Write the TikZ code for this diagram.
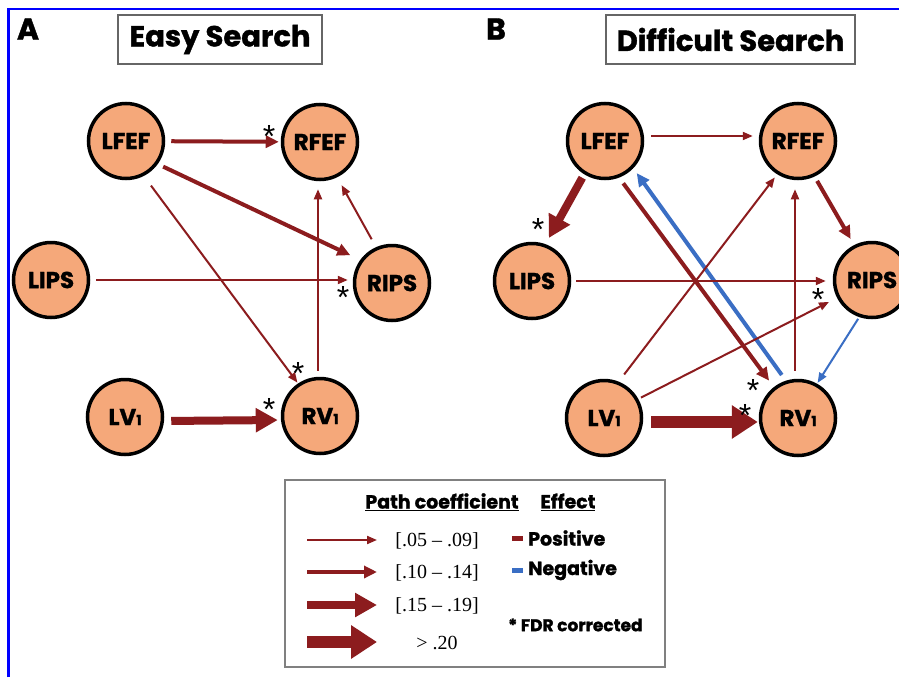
\documentclass[tikz,border=0pt]{standalone}
\usepackage{fontspec}
\newfontfamily\pop{Poppins}[BoldFeatures={FakeBold=1.3}]
\newfontfamily\tnr{Liberation Serif}
\newfontfamily\lsans{Liberation Sans}
\usetikzlibrary{arrows.meta}
\definecolor{ared}{RGB}{140,28,30}
\definecolor{ablue}{RGB}{58,110,196}
\definecolor{nfill}{RGB}{245,168,122}
\definecolor{frameblue}{RGB}{0,0,255}
\begin{document}
\begin{tikzpicture}[x=1pt,y=-1pt,
  region/.style={circle, draw=black, line width=3.5pt, fill=nfill, minimum size=75pt, inner sep=0pt,
    font=\pop\bfseries\fontsize{23}{23}\selectfont},
  con/.style={draw=ared, shorten <=7pt, shorten >=3pt},
  w1/.style={con, line width=2pt, -{Triangle[length=10pt,width=8pt]}},
  w2/.style={con, line width=4pt, -{Triangle[length=13pt,width=12pt]}},
  w3/.style={con, line width=8pt, -{Triangle[length=22pt,width=23pt]}},
  w4/.style={con, line width=12pt, -{Triangle[length=26pt,width=32pt]}},
  neg/.style={draw=ablue},
  fdr/.style={anchor=north, inner sep=0pt, font=\lsans\fontsize{32}{32}\selectfont},
  titlebox/.style={draw=black!60, line width=1.4pt, minimum height=49pt, inner sep=0pt,
    font=\pop\bfseries\fontsize{29}{29}\selectfont},
  panel/.style={inner sep=0pt, font=\pop\bfseries\fontsize{30}{30}\selectfont},
  legbox/.style={draw=black!50, line width=1.3pt, minimum width=380pt, minimum height=187pt, inner sep=0pt},
  legt/.style={inner sep=0pt, font=\pop\bfseries\fontsize{19}{19}\selectfont},
  val/.style={inner sep=0pt, font=\tnr\fontsize{20}{20}\selectfont},
]
\useasboundingbox (0,0) rectangle (899,677);
\fill[white] (0,0) rectangle (899,677);
\draw[frameblue, line width=2.8pt] (8.5,677) -- (8.5,9) -- (899,9);

% panel labels and titles
\node[panel] (labA) at (28,29) {A};
\node[panel] (labB) at (496,29) {B};
\node[titlebox, minimum width=204pt] (tA) at (220,39.5) {Easy Search};
\node[titlebox, minimum width=249pt] (tB) at (730.5,39.5) {Difficult Search};

% Panel A nodes
\node[region] (aLFEF) at (126,141) {LFEF};
\node[region] (aRFEF) at (320,142) {RFEF};
\node[region] (aLIPS) at (51,280) {LIPS};
\node[region] (aRIPS) at (392,283) {RIPS};
\node[region] (aLV) at (125,417) {LV{\fontsize{14}{14}\selectfont 1}};
\node[region] (aRV) at (320,416) {RV{\fontsize{14}{14}\selectfont 1}};

% Panel A connectors
\draw[w2, shorten <=6pt, shorten >=2pt] (aLFEF) -- (aRFEF);
\draw[w2, shorten <=6pt, shorten >=11pt] (aLFEF.-36) -- (aRIPS.144);
\draw[w1, shorten <=12pt, shorten >=1pt] (aLFEF.-63) -- (aRV.124);
\draw[w1, shorten <=6pt, shorten >=5pt] (aLIPS.east) -- (aLIPS.east -| aRIPS.west);
\draw[w1, shorten <=6pt, shorten >=8pt] ([xshift=-2pt]aRV.north) -- ([xshift=-2pt]aRFEF.south);
\draw[w1, shorten <=9pt, shorten >=9pt] (aRIPS.114) -- (aRFEF.-64.5);
\draw[w3, shorten <=7pt, shorten >=3pt] ([yshift=-4pt]aLV.east) -- ([yshift=-4pt]aRV.west);

\node[fdr] (sa1) at (269,125) {*};
\node[fdr] (sa2) at (343,286) {*};
\node[fdr] (sa3) at (298,362) {*};
\node[fdr] (sa4) at (269,398) {*};

% Panel B nodes
\node[region] (bLFEF) at (605,141) {LFEF};
\node[region] (bRFEF) at (798,141) {RFEF};
\node[region] (bLIPS) at (532,281) {LIPS};
\node[region] (bRIPS) at (872,280) {RIPS};
\node[region] (bLV) at (604,418) {LV{\fontsize{14}{14}\selectfont 1}};
\node[region] (bRV) at (798,418) {RV{\fontsize{14}{14}\selectfont 1}};

% Panel B connectors
\draw[w1, shorten <=7pt, shorten >=6pt] ([yshift=5pt]bLFEF.east) -- ([yshift=5pt]bRFEF.west);
\draw[w3, shorten <=4pt, shorten >=7pt] (bLFEF.-122) -- (bLIPS.70);
\draw[w2, shorten <=7pt, shorten >=8pt] (bLFEF.-69) -- (bRV.128);
\draw[w2, neg, shorten <=7pt, shorten >=6pt] (bRV.108) -- (bLFEF.-44);
\draw[w1, shorten <=5pt, shorten >=7pt] (bLIPS.east) -- (bLIPS.east -| bRIPS.west);
\draw[w1, shorten <=9pt, shorten >=4pt] (bLV.68.6) -- (bRFEF.-122);
\draw[w1, shorten <=3pt, shorten >=9pt] (bLV.29) -- (bRIPS.-153);
\draw[w1, shorten <=8pt, shorten >=9pt] ([xshift=-3pt]bRV.north) -- ([xshift=-3pt]bRFEF.south);
\draw[w2, shorten <=5pt, shorten >=7pt] (bRFEF.-65) -- (bRIPS.117.6);
\draw[w1, neg, shorten <=2pt, shorten >=1pt] (bRIPS.-109) -- (bRV.61);
\draw[w4, shorten <=8pt, shorten >=1pt] ([yshift=-4pt]bLV.east) -- ([yshift=-4pt]bRV.west);

\node[fdr] (sb1) at (538,218) {*};
\node[fdr] (sb2) at (818,288) {*};
\node[fdr] (sb3) at (753,379) {*};
\node[fdr] (sb4) at (745,404) {*};

% Legend
\node[legbox] (leg) at (475,573.5) {};
\node[legt] (hpc) at (442,502) {\underline{Path coefficient}};
\node[legt] (heff) at (568,502) {\underline{Effect}};
\coordinate (l1a) at (307,540); \coordinate (l1b) at (377,540);
\coordinate (l2a) at (307,572); \coordinate (l2b) at (377,572);
\coordinate (l3a) at (307,605); \coordinate (l3b) at (377,605);
\coordinate (l4a) at (307,642); \coordinate (l4b) at (377,642);
\draw[w1, shorten <=0pt, shorten >=0pt] (l1a) -- (l1b);
\draw[w2, shorten <=0pt, shorten >=0pt] (l2a) -- (l2b);
\draw[w3, shorten <=0pt, shorten >=0pt] (l3a) -- (l3b);
\draw[w4, shorten <=0pt, shorten >=0pt] (l4a) -- (l4b);
\node[val] (v1) at (437,541) {[.05 – .09]};
\node[val] (v2) at (437,573) {[.10 – .14]};
\node[val] (v3) at (437,606) {[.15 – .19]};
\node[val] (v4) at (437,643) {> .20};
\fill[ared] (512,536) rectangle (523,541);
\node[legt, anchor=west] (pos) at (528,538) {Positive};
\fill[ablue] (512,568) rectangle (523,573);
\node[legt, anchor=west] (negt) at (528,570) {Negative};
\node[legt, anchor=west, font=\pop\bfseries\fontsize{17}{17}\selectfont] (fdrt) at (508,625) {* FDR corrected};
\end{tikzpicture}
\end{document}
